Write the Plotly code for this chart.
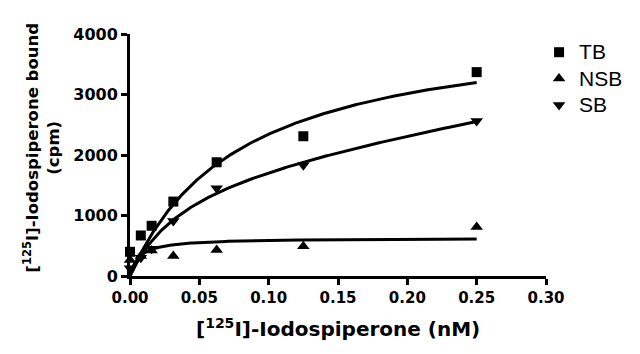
import numpy as np
import plotly.graph_objects as go

# Data
conc_nM = [0.0, 0.0078, 0.0156, 0.03125, 0.0625, 0.125, 0.25]
tb_cpm = [400, 670, 830, 1230, 1880, 2310, 3370]
nsb_cpm = [265, 330, 420, 330, 430, 490, 810]
sb_cpm = [130, 300, 450, 910, 1450, 1830, 2560]
series_names = ["TB", "NSB", "SB"]

# Fitted curve parameters (one-site binding style)
tb_bmax, tb_kd = 4229, 0.0804
nsb_bmax, nsb_kd = 627, 0.00665
sb_bmax, sb_kd, sb_slope = 1845, 0.04, 3855

x_ticks = [0.0, 0.05, 0.10, 0.15, 0.20, 0.25, 0.30]
y_ticks = [0, 1000, 2000, 3000, 4000]

xf = np.linspace(0, 0.25, 200)
tb_fit = tb_bmax * xf / (tb_kd + xf)
nsb_fit = nsb_bmax * xf / (nsb_kd + xf)
sb_fit = sb_bmax * xf / (sb_kd + xf) + sb_slope * xf

W, H = 640, 354
L, R, T, B = 130, 91, 34, 78
pw, ph = W - L - R, H - T - B

fig = go.Figure()
for yfit in (tb_fit, nsb_fit, sb_fit):
    fig.add_trace(go.Scatter(x=xf, y=yfit, mode="lines",
                             line=dict(color="black", width=3),
                             showlegend=False, hoverinfo="skip",
                             cliponaxis=False))

for name, ys, sym, sz in zip(series_names, [tb_cpm, nsb_cpm, sb_cpm],
                             ["square", "triangle-up", "triangle-down"],
                             [10, 11, 11]):
    fig.add_trace(go.Scatter(x=conc_nM, y=ys, mode="markers",
                             name=f"<span style='font-size:21px'>{name}</span>",
                             marker=dict(symbol=sym, size=sz, color="black"),
                             cliponaxis=False))

xtickfont = dict(family="DejaVu Sans", size=15, color="black", weight="bold")
ytickfont = dict(family="DejaVu Sans", size=16, color="black", weight="bold")
fig.update_xaxes(range=[0, 0.30], tickvals=x_ticks, tickformat=".2f",
                 showline=True, linewidth=3, linecolor="black",
                 ticks="outside", ticklen=6, tickwidth=3, tickcolor="black",
                 showgrid=False, zeroline=False, tickfont=xtickfont)
fig.update_yaxes(range=[0, 4000], tickvals=y_ticks,
                 showline=True, linewidth=3, linecolor="black",
                 ticks="outside", ticklen=6, tickwidth=3, tickcolor="black",
                 showgrid=False, zeroline=False, tickfont=ytickfont)

fig.add_annotation(text="[<sup>125</sup>I]-Iodospiperone (nM)",
                   xref="paper", yref="paper",
                   x=(339 - L) / pw, y=-(328 - (T + ph)) / ph,
                   showarrow=False,
                   font=dict(family="DejaVu Sans", size=20, color="black",
                             weight="bold"),
                   xanchor="center", yanchor="middle")
fig.add_annotation(text="[<sup>125</sup>I]-Iodospiperone bound<br>(cpm)",
                   xref="paper", yref="paper",
                   x=-(L - 40) / pw, y=1 - (148 - T) / ph,
                   showarrow=False,
                   font=dict(family="DejaVu Sans", size=16.5, color="black",
                             weight="bold"),
                   textangle=-90,
                   xanchor="center", yanchor="middle")

fig.update_layout(
    width=W, height=H,
    margin=dict(l=L, r=R, t=T, b=B, pad=0),
    paper_bgcolor="white", plot_bgcolor="white",
    showlegend=True,
    legend=dict(x=(542 - L) / pw, y=1 - (34 - T) / ph,
                xanchor="left", yanchor="top",
                font=dict(family="Liberation Sans", size=18, color="black"),
                tracegroupgap=0, bgcolor="rgba(0,0,0,0)"),
)

fig.write_html("out.html")
